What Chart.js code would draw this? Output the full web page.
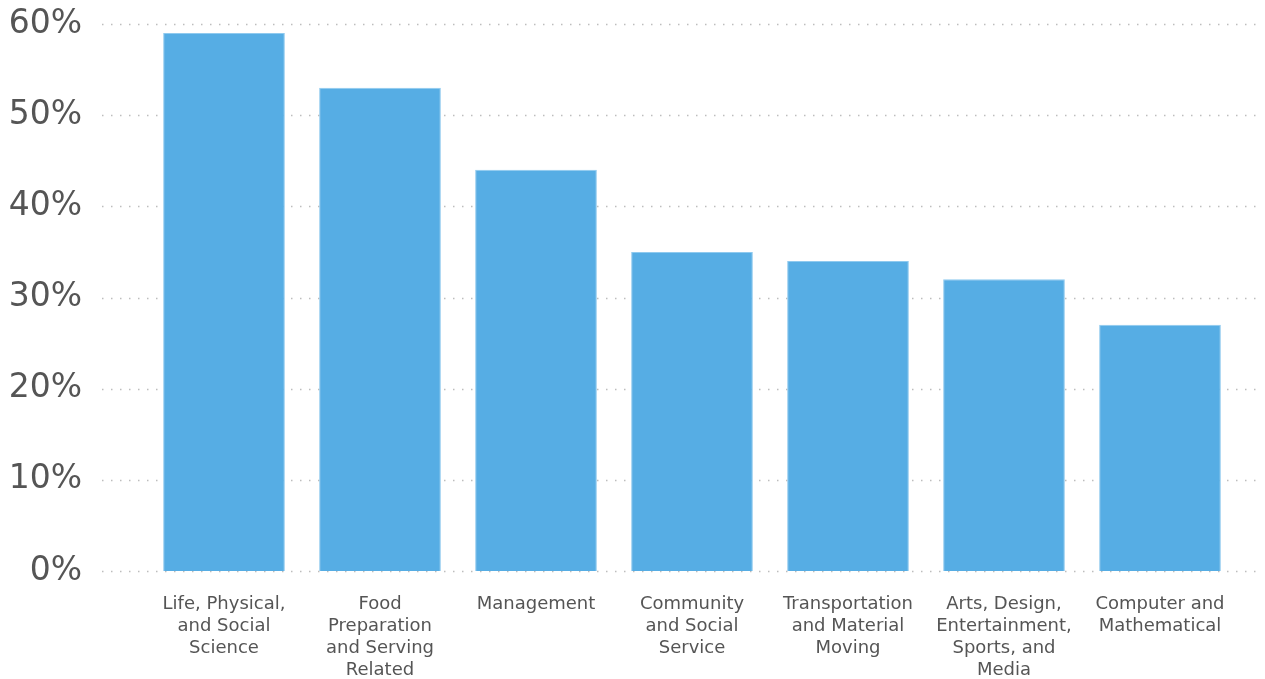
<!DOCTYPE html>
<html>
<head>
<meta charset="utf-8">
<script src="https://cdn.jsdelivr.net/npm/chart.js@4"></script>
<style>
  html, body { margin: 0; padding: 0; background: #ffffff; }
  #wrap { width: 1265px; height: 679px; position: relative; }
</style>
</head>
<body>
<div id="wrap"><canvas id="chart"></canvas></div>
<script>
const categories = [
    ['Life, Physical,', 'and Social', 'Science'],
    ['Food', 'Preparation', 'and Serving', 'Related'],
    ['Management'],
    ['Community', 'and Social', 'Service'],
    ['Transportation', 'and Material', 'Moving'],
    ['Arts, Design,', 'Entertainment,', 'Sports, and', 'Media'],
    ['Computer and', 'Mathematical']
];
const shares = [59, 53, 44, 35, 34, 32, 27];
const yTicks = [0, 10, 20, 30, 40, 50, 60];

const FONT = 'DejaVu Sans, Verdana, sans-serif';

// dotted gridlines run wider than the plot area, so draw them ourselves
const dottedGrid = {
    id: 'dottedGrid',
    beforeDatasetsDraw(chart) {
        const ctx = chart.ctx;
        const y = chart.scales.y;
        ctx.save();
        ctx.strokeStyle = '#bdbdbd';
        ctx.lineWidth = 1.5;
        ctx.setLineDash([1.5, 7.5]);
        for (let i = 0; i < yTicks.length; i++) {
            const py = Math.round(y.getPixelForValue(yTicks[i])) + 0.5;
            ctx.beginPath();
            ctx.moveTo(102, py);
            ctx.lineTo(1263, py);
            ctx.stroke();
        }
        ctx.restore();
    }
};

new Chart(document.getElementById('chart'), {
    type: 'bar',
    data: {
        labels: categories,
        datasets: [{
            data: shares,
            backgroundColor: '#56ade4',
            borderColor: '#8fcaef',
            borderWidth: 1,
            barPercentage: 0.78,
            categoryPercentage: 1
        }]
    },
    options: {
        responsive: true,
        maintainAspectRatio: false,
        animation: false,
        layout: {
            padding: { top: 24, right: 27, bottom: 0, left: 0 }
        },
        plugins: {
            legend: { display: false },
            tooltip: { enabled: false }
        },
        scales: {
            x: {
                grid: { display: false, drawTicks: false },
                border: { display: false },
                ticks: {
                    color: '#555555',
                    font: { family: FONT, size: 18, lineHeight: 1.22 },
                    padding: 22,
                    maxRotation: 0,
                    autoSkip: false
                },
                afterFit(scale) { scale.height = 108; }
            },
            y: {
                min: 0,
                max: 60,
                grid: { display: false, drawTicks: false },
                border: { display: false },
                ticks: {
                    stepSize: 10,
                    color: '#555555',
                    font: { family: FONT, size: 33 },
                    padding: 64,
                    callback: function(v) { return v + '%'; }
                },
                afterFit(scale) {
                    scale.width = 146;
                    scale.paddingTop = 0;
                    scale.paddingBottom = 0;
                }
            }
        }
    },
    plugins: [dottedGrid]
});
</script>
</body>
</html>
